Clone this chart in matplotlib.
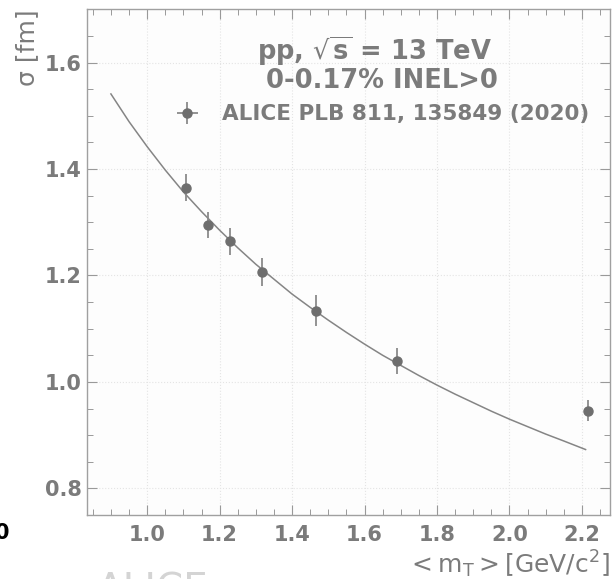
import numpy as np
import matplotlib.pyplot as plt
from matplotlib.ticker import MultipleLocator

# ALICE pp 13 TeV HM source size vs <mT>
mt = [1.106, 1.168, 1.230, 1.316, 1.465, 1.690, 2.218]
sigma = [1.365, 1.295, 1.264, 1.206, 1.134, 1.039, 0.946]
sigma_err = [0.026, 0.025, 0.026, 0.026, 0.029, 0.024, 0.020]

# fit curve
fit_mt = [0.90, 0.95, 1.00, 1.05, 1.10, 1.15, 1.20, 1.25, 1.30, 1.35, 1.40, 1.45, 1.50,
          1.55, 1.60, 1.65, 1.70, 1.75, 1.80, 1.85, 1.90, 1.95, 2.00, 2.05, 2.10, 2.15, 2.21]
fit_sigma = [1.541, 1.489, 1.442, 1.398, 1.357, 1.320, 1.285, 1.252, 1.221, 1.193, 1.165,
             1.140, 1.116, 1.093, 1.071, 1.050, 1.031, 1.012, 0.994, 0.977, 0.961, 0.945,
             0.930, 0.916, 0.902, 0.889, 0.873]

grey = '#7b7b7b'
dot = '#6e6e6e'

fig = plt.figure(figsize=(6.14, 5.79), dpi=100)
ax = fig.add_axes([87/614, 1 - 515/579, 522.5/614, 505.7/579])
ax.set_facecolor('#fdfdfd')

ax.plot(fit_mt, fit_sigma, color='#858585', lw=1.1)
ax.errorbar(mt, sigma, yerr=sigma_err, xerr=0, fmt='o', color=dot, ecolor='#8a8a8a',
            ms=6.5, elinewidth=1.3, capsize=0, label='ALICE PLB 811, 135849 (2020)')

ax.set_xlim(0.834, 2.276)
ax.set_ylim(0.75, 1.70)
ax.xaxis.set_major_locator(MultipleLocator(0.2))
ax.xaxis.set_minor_locator(MultipleLocator(0.05))
ax.yaxis.set_major_locator(MultipleLocator(0.2))
ax.yaxis.set_minor_locator(MultipleLocator(0.05))

ax.tick_params(which='both', direction='in', top=True, right=True, colors='#999999',
               labelcolor=grey)
ax.tick_params(which='major', length=7, width=0.8)
ax.tick_params(which='minor', length=4, width=0.7)
ax.tick_params(axis='x', pad=7)
ax.tick_params(axis='y', pad=4)
for lab in ax.get_xticklabels() + ax.get_yticklabels():
    lab.set_fontweight('bold')
    lab.set_fontsize(15)
for s in ax.spines.values():
    s.set_color('#a0a0a0')
    s.set_linewidth(1.0)
ax.grid(True, which='major', color='#e4e4e4', ls=':', lw=0.8)

ax.set_ylabel(r'σ [fm]', loc='top', fontsize=18, color=grey, labelpad=4)
ax.set_xlabel(r'$\mathrm{<m_T>[GeV/c^2]}$', loc='right', fontsize=18, color=grey, labelpad=3)

leg = ax.legend(title='pp, $\\sqrt{\\mathbf{s}}$ = 13 TeV\n 0-0.17% INEL>0', loc='upper right',
                bbox_to_anchor=(589/614, 1 - 34/579), bbox_transform=fig.transFigure,
                frameon=False, borderpad=0, borderaxespad=0, handletextpad=0.6,
                prop={'weight': 'bold', 'size': 15.5},
                title_fontproperties={'weight': 'bold', 'size': 18.5})
leg.get_title().set_color(grey)
leg.get_title().set_linespacing(1.0)
for t in leg.get_texts():
    t.set_color(grey)

fig.text(97/614, 1 - 601/579, 'ALICE', fontsize=28, color='#d4d4d4', va='baseline')
fig.text(9/614, 1 - 533/579, '0', fontsize=15, fontweight='bold', color='black',
         ha='right', va='center')

fig.savefig('out.png', dpi=100)
